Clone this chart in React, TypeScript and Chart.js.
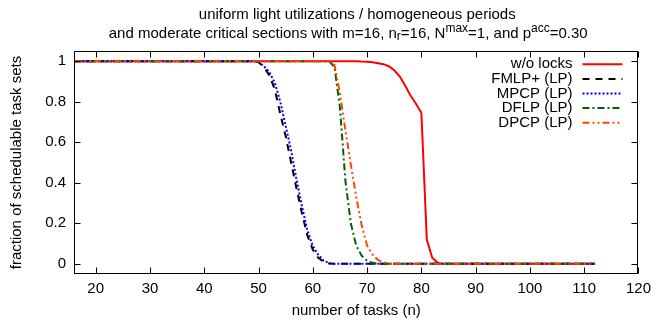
import React, { useEffect, useRef } from "react";
import { Chart, registerables } from "chart.js";

Chart.register(...registerables);

const FONT = '"Liberation Sans", Arial, Helvetica, sans-serif';

// number of tasks (n)
const taskCounts = [
  16, 20, 24, 28, 32, 36, 40, 44,
  45, 46, 47, 48, 49, 50, 51, 52, 53, 54,
  55, 56, 57, 58, 59, 60, 61, 62, 63, 64,
  65, 66, 67, 68, 69, 70, 71, 72, 73, 74,
  75, 76, 77, 78, 79, 80, 81, 82, 83, 84,
  85, 86,
  88, 92, 96, 100, 104, 108, 112,
];

const woLocks = [
  1, 1, 1, 1, 1, 1, 1, 1,
  1, 1, 1, 1, 1, 1, 1, 1, 1, 1,
  1, 1, 1, 1, 1, 1, 1, 1, 1, 1,
  1, 1, 1, 1, 0.998, 0.997, 0.995, 0.99, 0.985, 0.975,
  0.955, 0.925, 0.88, 0.83, 0.79, 0.745, 0.12, 0.03, 0.005, 0,
  0, 0,
  0, 0, 0, 0, 0, 0, 0,
];

const fmlpPlus = [
  1, 1, 1, 1, 1, 1, 1, 1,
  1, 1, 1, 1, 1, 0.995, 0.97, 0.93, 0.86, 0.74,
  0.63, 0.5, 0.37, 0.25, 0.14, 0.07, 0.03, 0.01, 0.002, 0,
  0, 0, 0, 0, 0, 0, 0, 0, 0, 0,
  0, 0, 0, 0, 0, 0, 0, 0, 0, 0,
  0, 0,
  0, 0, 0, 0, 0, 0, 0,
];

const mpcp = [
  1, 1, 1, 1, 1, 1, 1, 1,
  1, 1, 1, 1, 1, 0.997, 0.975, 0.945, 0.893, 0.8,
  0.68, 0.56, 0.415, 0.285, 0.165, 0.088, 0.045, 0.015, 0.004, 0,
  0, 0, 0, 0, 0, 0, 0, 0, 0, 0,
  0, 0, 0, 0, 0, 0, 0, 0, 0, 0,
  0, 0,
  0, 0, 0, 0, 0, 0, 0,
];

const dflp = [
  1, 1, 1, 1, 1, 1, 1, 1,
  1, 1, 1, 1, 1, 1, 1, 1, 1, 1,
  1, 1, 1, 1, 1, 1, 1, 1, 1, 0.97,
  0.77, 0.41, 0.2, 0.09, 0.04, 0.015, 0.005, 0, 0, 0,
  0, 0, 0, 0, 0, 0, 0, 0, 0, 0,
  0, 0,
  0, 0, 0, 0, 0, 0, 0,
];

const dpcp = [
  1, 1, 1, 1, 1, 1, 1, 1,
  1, 1, 1, 1, 1, 1, 1, 1, 1, 1,
  1, 1, 1, 1, 1, 1, 1, 1, 1, 0.98,
  0.84, 0.66, 0.49, 0.33, 0.19, 0.09, 0.045, 0.02, 0.008, 0,
  0, 0, 0, 0, 0, 0, 0, 0, 0, 0,
  0, 0,
  0, 0, 0, 0, 0, 0, 0,
];

const seriesLabels = ["w/o locks", "FMLP+ (LP)", "MPCP (LP)", "DFLP (LP)", "DPCP (LP)"];
const seriesColors = ["#ff0000", "#000000", "#0000ff", "#006400", "#ff4500"];
const seriesDashes = [[], [7, 6], [2, 2], [7, 3, 2, 3], [7, 3, 2, 3, 2, 3]];

const xTicks = [20, 30, 40, 50, 60, 70, 80, 90, 100, 110, 120];
const yTicks = [0, 0.2, 0.4, 0.6, 0.8, 1];
const yTickLabels = ["0", "0.2", "0.4", "0.6", "0.8", "1"];

const xTitle = "number of tasks (n)";
const yTitle = "fraction of schedulable task sets";
const titleLine1 = "uniform light utilizations / homogeneous periods";
const titleLine2 = [
  { text: "and moderate critical sections with m=16, n", kind: "normal" },
  { text: "r", kind: "sub" },
  { text: "=16, N", kind: "normal" },
  { text: "max", kind: "sup" },
  { text: "=1, and p", kind: "normal" },
  { text: "acc", kind: "sup" },
  { text: "=0.30", kind: "normal" },
];

const titlePlugin = {
  id: "gnuTitle",
  afterDraw(chart: any) {
    const { ctx, chartArea: a } = chart;
    const cx = (a.left + a.right) / 2;
    ctx.save();
    ctx.fillStyle = "#000";
    ctx.textBaseline = "middle";
    ctx.font = `15px ${FONT}`;
    ctx.textAlign = "center";
    ctx.fillText(titleLine1, cx + 1, 15);

    const fontFor = (k: string) => (k === "normal" ? `15px ${FONT}` : `12px ${FONT}`);
    let total = 0;
    for (const s of titleLine2) {
      ctx.font = fontFor(s.kind);
      total += ctx.measureText(s.text).width;
    }
    let x = cx - 8 - total / 2;
    ctx.textAlign = "left";
    const baseY = 33.5;
    for (const s of titleLine2) {
      ctx.font = fontFor(s.kind);
      const dy = s.kind === "sup" ? -5 : s.kind === "sub" ? 3.5 : 0;
      ctx.fillText(s.text, x, baseY + dy);
      x += ctx.measureText(s.text).width;
    }
    ctx.restore();
  },
};

const framePlugin = {
  id: "gnuFrame",
  afterDraw(chart: any) {
    const { ctx, chartArea: a, scales } = chart;
    const xs = scales.x;
    const ys = scales.y;
    ctx.save();
    ctx.strokeStyle = "#000";
    ctx.lineWidth = 1;
    ctx.setLineDash([]);
    const L = Math.round(a.left) + 0.5;
    const R = Math.round(a.right) - 0.5;
    const T = Math.round(a.top) + 0.5;
    const B = Math.round(a.bottom) - 0.5;
    ctx.strokeRect(L, T, R - L, B - T);
    const tl = 6;
    ctx.beginPath();
    for (const v of xTicks) {
      const px = Math.round(xs.getPixelForValue(v)) + 0.5;
      ctx.moveTo(px, B);
      ctx.lineTo(px, B - tl);
      ctx.moveTo(px, T);
      ctx.lineTo(px, T + tl);
    }
    for (const v of yTicks) {
      const py = Math.round(ys.getPixelForValue(v)) + 0.5;
      ctx.moveTo(L, py);
      ctx.lineTo(L + tl, py);
      ctx.moveTo(R, py);
      ctx.lineTo(R - tl, py);
    }
    ctx.stroke();

    // key
    ctx.font = `15px ${FONT}`;
    ctx.textAlign = "right";
    ctx.textBaseline = "middle";
    ctx.fillStyle = "#000";
    chart.data.datasets.forEach((ds: any, i: number) => {
      const yy = a.top + 13.3 + i * 14.6;
      ctx.fillText(ds.label, a.right - 66, yy);
      ctx.save();
      ctx.strokeStyle = ds.borderColor;
      ctx.lineWidth = 2;
      ctx.setLineDash(ds.borderDash || []);
      ctx.beginPath();
      ctx.moveTo(a.right - 56, yy);
      ctx.lineTo(a.right - 16, yy);
      ctx.stroke();
      ctx.restore();
    });
    ctx.restore();
  },
};

export default function App() {
  const ref = useRef<HTMLCanvasElement | null>(null);

  useEffect(() => {
    if (!ref.current) return;
    const series = [woLocks, fmlpPlus, mpcp, dflp, dpcp];
    const chart = new Chart(ref.current, {
      type: "line",
      data: {
        datasets: series.map((vals, i) => ({
          label: seriesLabels[i],
          data: taskCounts.map((n, j) => ({ x: n, y: vals[j] })),
          borderColor: seriesColors[i],
          backgroundColor: seriesColors[i],
          borderDash: seriesDashes[i],
          borderWidth: 2,
          pointRadius: 0,
          tension: 0,
          fill: false,
          order: series.length - 1 - i,
        })),
      },
      options: {
        animation: false,
        responsive: false,
        devicePixelRatio: 1,
        layout: { padding: { left: 0, right: 13, top: 51, bottom: 0 } },
        plugins: {
          legend: { display: false },
          tooltip: { enabled: false },
          title: { display: false },
        },
        scales: {
          x: {
            type: "linear",
            min: 16,
            max: 120,
            grid: { display: false, drawTicks: false },
            border: { display: false },
            afterBuildTicks: (scale: any) => {
              scale.ticks = xTicks.map((v) => ({ value: v }));
            },
            afterFit: (scale: any) => {
              scale.height = 46;
            },
            ticks: {
              padding: 6,
              color: "#000",
              font: { family: FONT, size: 15 },
              maxRotation: 0,
              autoSkip: false,
              callback: (v: any) => String(v),
            },
            title: {
              display: true,
              text: xTitle,
              color: "#000",
              font: { family: FONT, size: 15 },
              padding: { top: 0, bottom: 0 },
            },
          },
          y: {
            type: "linear",
            min: -0.05,
            max: 1.05,
            grid: { display: false, drawTicks: false },
            border: { display: false },
            afterBuildTicks: (scale: any) => {
              scale.ticks = yTicks.map((v) => ({ value: v }));
            },
            afterFit: (scale: any) => {
              scale.width = 74;
            },
            ticks: {
              padding: 8,
              color: "#000",
              font: { family: FONT, size: 15 },
              autoSkip: false,
              callback: (_v: any, i: number) => yTickLabels[i],
            },
            title: {
              display: true,
              text: yTitle,
              color: "#000",
              font: { family: FONT, size: 15 },
              padding: { top: 8, bottom: 0 },
            },
          },
        },
      },
      plugins: [titlePlugin, framePlugin],
    } as any);
    return () => chart.destroy();
  }, []);

  return (
    <div style={{ position: "absolute", left: 0, top: 0, width: 657, height: 320, background: "#fff" }}>
      <canvas ref={ref} width={657} height={320} />
    </div>
  );
}
